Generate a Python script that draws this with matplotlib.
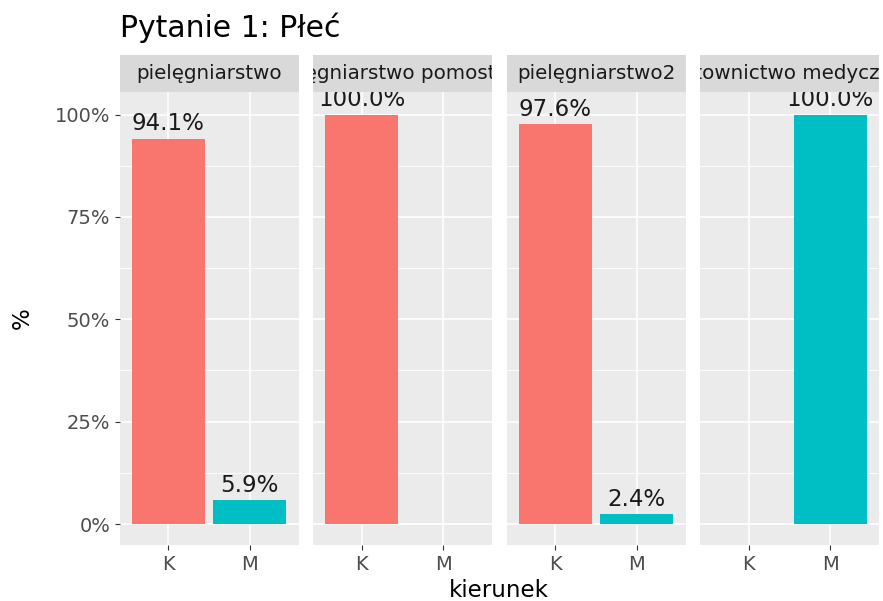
import matplotlib
matplotlib.use("Agg")
import matplotlib.pyplot as plt
import matplotlib.transforms as mtransforms
import numpy as np

plt.rcParams['font.family'] = ['DejaVu Sans']

title = "Pytanie 1: Płeć"
facets = ['pielęgniarstwo', 'pielęgniarstwo pomostowe', 'pielęgniarstwo2', 'ratownictwo medyczne']
sex = ['K', 'M']
pct_K = [94.1, 100.0, 97.6, 0.0]
pct_M = [5.9, 0.0, 2.4, 100.0]
colors = {'K': '#F8766D', 'M': '#00BFC4'}
yticks = [0, 25, 50, 75, 100]
ytick_labels = ['0%', '25%', '50%', '75%', '100%']
xlabel = 'kierunek'
ylabel = '%'

W, H = 883, 601
fig = plt.figure(figsize=(W / 100, H / 100), dpi=100)
fig.patch.set_facecolor('white')

lefts = [119.5, 313.0, 506.5, 700.0]
pw = 179.0
ptop, pbot = 92.0, 544.5
stop = 55.0

def fx(px):
    return px / W

def fy(py):
    return 1 - py / H

for i, name in enumerate(facets):
    ax = fig.add_axes([fx(lefts[i]), fy(pbot), fx(pw), (pbot - ptop) / H])
    ax.set_facecolor('#EBEBEB')
    for s in ax.spines.values():
        s.set_visible(False)
    ax.set_xlim(0.4, 2.6)
    ax.set_ylim(-5.0, 105.5)
    # grid
    for yv in [12.5, 37.5, 62.5, 87.5]:
        ax.axhline(yv, color='white', lw=0.6, zorder=0.5)
    for yv in yticks:
        ax.axhline(yv, color='white', lw=1.2, zorder=0.6)
    for xv in [1, 2]:
        ax.axvline(xv, color='white', lw=1.2, zorder=0.6)
    vals = [pct_K[i], pct_M[i]]
    for j, s in enumerate(sex):
        v = vals[j]
        if v <= 0:
            continue
        ax.bar(j + 1, v, width=0.9, color=colors[s], zorder=2)
        off = mtransforms.offset_copy(ax.transData, fig=fig, x=0, y=6.0, units='points')
        ax.text(j + 1, v, f'{v:.1f}%', transform=off, ha='center', va='baseline',
                fontsize=16.5, color='#1A1A1A', clip_on=True, zorder=3)
    ax.set_xticks([1, 2])
    ax.set_xticklabels(sex)
    ax.set_yticks(yticks)
    ax.tick_params(axis='both', colors='#333333', length=3.6, width=0.8,
                   labelsize=14, labelcolor='#4D4D4D')
    ax.tick_params(axis='x', pad=4)
    ax.tick_params(axis='y', pad=3)
    if i == 0:
        ax.set_yticklabels(ytick_labels)
    else:
        ax.tick_params(axis='y', left=False, labelleft=False)
    # strip
    sax = fig.add_axes([fx(lefts[i]), fy(ptop), fx(pw), (ptop - stop) / H])
    sax.set_facecolor('#D9D9D9')
    for s in sax.spines.values():
        s.set_visible(False)
    sax.set_xticks([])
    sax.set_yticks([])
    sax.set_xlim(0, 1)
    sax.set_ylim(0, 1)
    sax.text(0.5, 0.5, name, ha='center', va='center', fontsize=14.3,
             color='#1A1A1A', clip_on=True)

fig.text(fx(120), fy(37), title, ha='left', va='baseline', fontsize=21.5, color='black')
fig.text(fx((lefts[0] + lefts[-1] + pw) / 2), fy(597), xlabel, ha='center', va='baseline',
         fontsize=16.5, color='black')
fig.text(fx(22), fy((ptop + pbot) / 2), ylabel, ha='center', va='center', rotation=90,
         fontsize=16.5, color='black')

fig.savefig('out.png', dpi=100, facecolor='white')
